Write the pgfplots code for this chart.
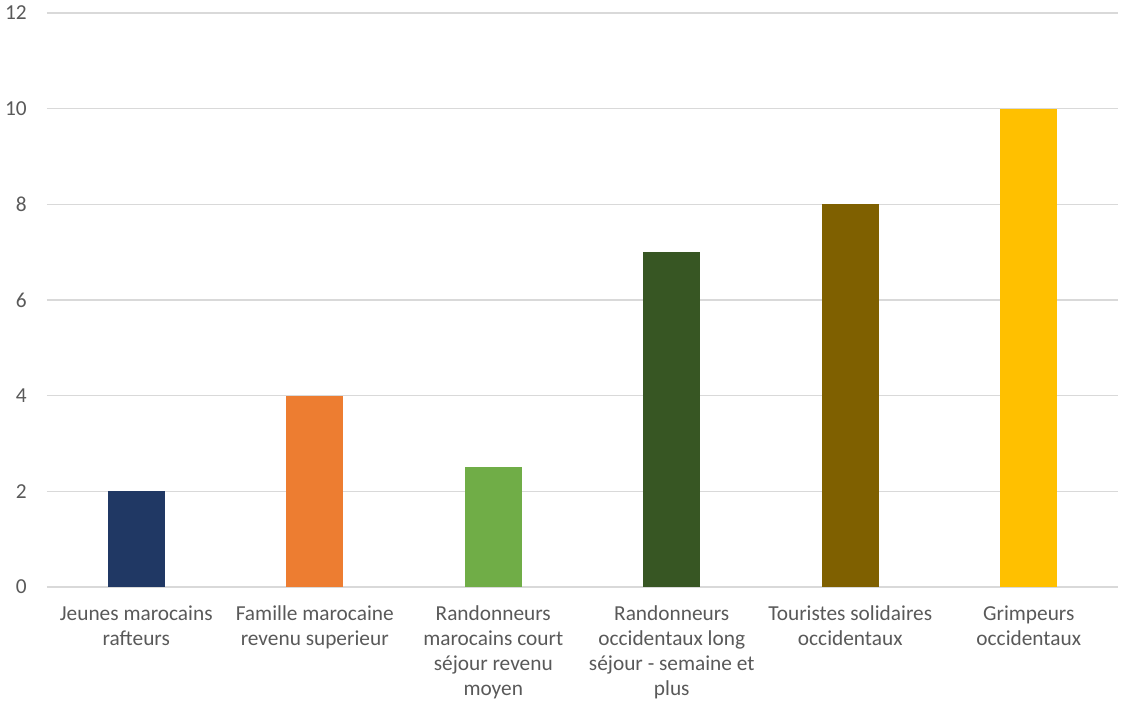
\documentclass[border=0pt]{standalone}
\usepackage{fontspec}
\setmainfont{Carlito}
\usepackage{pgfplots}
\pgfplotsset{compat=1.18}
\definecolor{txt}{HTML}{595959}
\definecolor{gridc}{HTML}{D9D9D9}
\definecolor{c1}{HTML}{203864}
\definecolor{c2}{HTML}{ED7D31}
\definecolor{c3}{HTML}{70AD47}
\definecolor{c4}{HTML}{375623}
\definecolor{c5}{HTML}{7F6000}
\definecolor{c6}{HTML}{FFC000}
\begin{document}
\fontsize{16pt}{18.75pt}\selectfont
\begin{tikzpicture}
\useasboundingbox (0,0) rectangle (840.75pt,526.5pt);
\begin{axis}[
  at={(35.25pt,86.25pt)}, anchor=south west,
  scale only axis, width=803.25pt, height=430.5pt,
  xmin=-0.5, xmax=5.5, ymin=0, ymax=12,
  ytick={0,2,...,12},
  xtick={0,...,5},
  xticklabels={
    {Jeunes marocains\\rafteurs},
    {Famille marocaine\\revenu superieur},
    {Randonneurs\\marocains court\\séjour revenu\\moyen},
    {Randonneurs\\occidentaux long\\séjour - semaine et\\plus},
    {Touristes solidaires\\occidentaux},
    {Grimpeurs\\occidentaux}},
  xticklabel style={align=center, text=txt, font=\fontsize{16pt}{18.75pt}\selectfont, inner sep=0pt, yshift=-14pt},
  yticklabel style={text=txt, font=\fontsize{16pt}{18.75pt}\selectfont, inner sep=0pt, xshift=-15pt},
  /pgf/number format/assume math mode=true,
  major tick length=0pt,
  axis line style={draw=none},
  xmajorgrids=false,
  ymajorgrids=true,
  major grid style={draw=gridc, line width=0.9pt},
  clip=false,
]
\draw[gridc, line width=0.9pt] (axis cs:-0.5,0) -- (axis cs:5.5,0);
\addplot[ybar, bar width=42.75pt, fill=c1, draw=none] coordinates {(0,2)};
\addplot[ybar, bar width=42.75pt, fill=c2, draw=none] coordinates {(1,4)};
\addplot[ybar, bar width=42.75pt, fill=c3, draw=none] coordinates {(2,2.5)};
\addplot[ybar, bar width=42.75pt, fill=c4, draw=none] coordinates {(3,7)};
\addplot[ybar, bar width=42.75pt, fill=c5, draw=none] coordinates {(4,8)};
\addplot[ybar, bar width=42.75pt, fill=c6, draw=none] coordinates {(5,10)};
\end{axis}
\end{tikzpicture}
\end{document}
